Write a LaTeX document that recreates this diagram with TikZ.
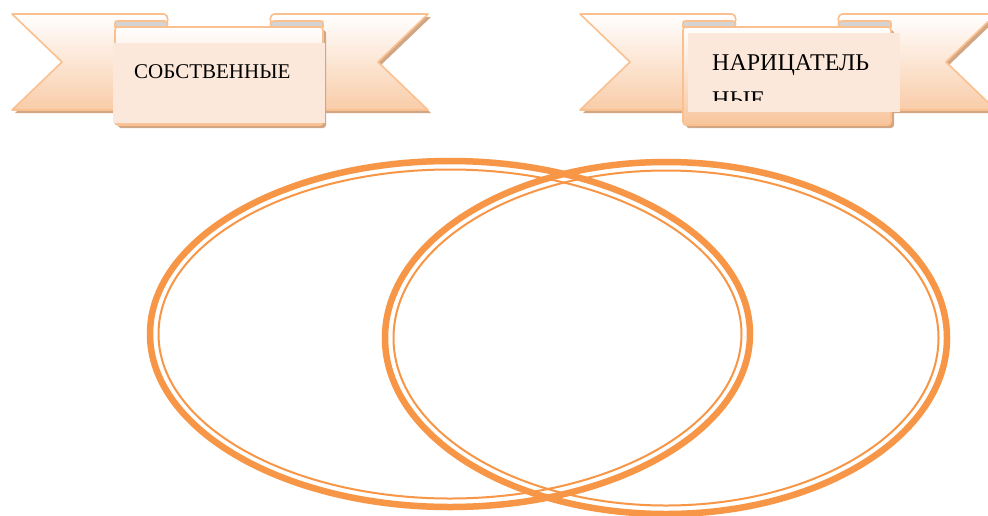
\documentclass[tikz,border=0pt]{standalone}
\usepackage{fontspec}
\setmainfont{Liberation Serif}
\definecolor{ellc}{HTML}{F79646}
\definecolor{rimc}{HTML}{FAC08F}
\definecolor{curlc}{HTML}{D4D4D4}
\definecolor{shadc}{HTML}{D0A684}
\definecolor{boxc}{HTML}{FCE8DA}
\definecolor{tailbot}{HTML}{F9CCA8}
\definecolor{panelbot}{HTML}{F8C59C}
\tikzset{
  tailpart/.style={top color=white, bottom color=tailbot, draw=rimc, line width=1.6pt, line join=round},
  panelpart/.style={top color=white, bottom color=panelbot, draw=rimc, line width=1.6pt, line join=round},
  curlpart/.style={fill=curlc, draw=rimc, line width=1.6pt, line join=round},
  shadowpart/.style={fill=shadc},
  textbox/.style={fill=boxc, draw=none},
  outerring/.style={draw=ellc, line width=6.5pt},
  innerring/.style={draw=ellc, line width=2pt},
  lbl/.style={inner sep=0pt, anchor=base west, text=black}
}
\newcommand{\drawribbonbase}{%
  % shadows
  \fill[shadowpart, shift={(3,3)}] (12,14) -- (164,14) -- (164,25) -- (118,25) -- (118,110) -- (12,110) -- (62,62) -- cycle;
  \fill[shadowpart, shift={(3,3)}] (428,14) -- (274,14) -- (274,25) -- (320,25) -- (320,110) -- (428,110) -- (378,62) -- cycle;
  % tails
  \path[tailpart] (12,14) -- (164,14) .. controls (169,14) and (169,25) .. (164,25) -- (118,25) -- (118,110) -- (12,110) -- (62,62) -- cycle;
  \path[tailpart] (428,14) -- (274,14) .. controls (269,14) and (269,25) .. (274,25) -- (320,25) -- (320,110) -- (428,110) -- (378,62) -- cycle;
  % front panel shadow and panel
  \fill[shadowpart, rounded corners=3] (118,30) rectangle (326,128);
  \path[panelpart, rounded corners=3] (115,27) -- (115,125) -- (323,125) -- (323,27) -- cycle;
  % curls
  \path[curlpart] (115,27) -- (115,25) .. controls (115,21) .. (119,21) -- (164,21) .. controls (169,21) and (169,27) .. (164,27) -- cycle;
  \path[curlpart] (323,27) -- (323,25) .. controls (323,21) .. (319,21) -- (274,21) .. controls (269,21) and (269,27) .. (274,27) -- cycle;
}
\begin{document}
\begin{tikzpicture}[x=1pt,y=-1pt]
\useasboundingbox (0,0) rectangle (988,515);
\fill[white] (0,0) rectangle (988,515);
% left banner
\drawribbonbase
\fill[textbox] (113,43) rectangle (325,123);
\node[lbl, font=\fontsize{21}{25}\selectfont] (own) at (134,78) {СОБСТВЕННЫЕ};
% right banner
\begin{scope}[shift={(568,0)}]
  \drawribbonbase
  \fill[textbox] (120,33) rectangle (332,112);
  \begin{scope}
    \clip (120,33) rectangle (332,100);
    \node[lbl, font=\fontsize{24}{28}\selectfont] (common1) at (144,70) {НАРИЦАТЕЛЬ};
    \node[lbl, font=\fontsize{24}{28}\selectfont] (common2) at (144,107) {НЫЕ};
  \end{scope}
\end{scope}
% ellipses
\draw[outerring] (450,334) ellipse [x radius=300pt, y radius=173pt];
\draw[innerring] (450,334) ellipse [x radius=291.5pt, y radius=164.5pt];
\draw[outerring] (666,338) ellipse [x radius=281pt, y radius=176pt];
\draw[innerring] (666,338) ellipse [x radius=272.5pt, y radius=167.5pt];
\end{tikzpicture}
\end{document}
